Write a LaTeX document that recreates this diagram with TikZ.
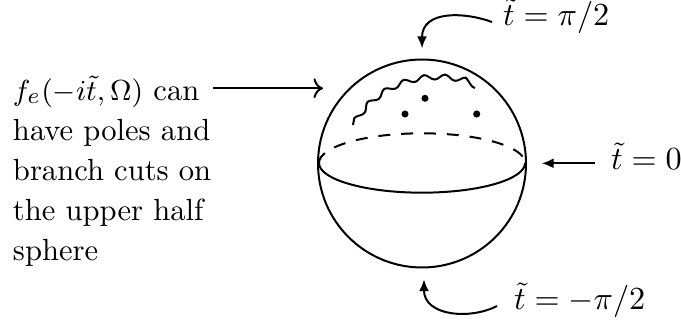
\documentclass[tikz,border=0pt]{standalone}
\usetikzlibrary{arrows.meta,decorations.pathmorphing}
\begin{document}
\begin{tikzpicture}[x=0.3106pt,y=-0.3106pt,line width=0.62pt,
  tipped/.style={-{Latex[length=3.7pt,width=3.1pt]}},
  lbl/.style={anchor=base west,inner sep=0pt},
  backline/.style={dash pattern=on 3.7pt off 3.4pt},
  wave/.style={decorate,decoration={snake,amplitude=0.8pt,segment length=6.4pt}}]
\useasboundingbox (0,0) rectangle (681,327);
% sphere
\coordinate (c) at (422,163.5);
\draw (c) circle[radius=32.3pt];
\draw (319,163) arc[start angle=180,end angle=360,x radius=32pt,y radius=9.22pt];
\draw[backline] (319,163) arc[start angle=180,end angle=0,x radius=32pt,y radius=9.22pt];
% branch cut and poles
\draw[wave] (353,125) .. controls (375,90) and (420,70) .. (475,88);
\fill (405,114) circle[radius=1.1pt];
\fill (425,98.3) circle[radius=1.1pt];
\fill (476.7,114) circle[radius=1.1pt];
% labels
\node[lbl] (top) at (502,26) {$\tilde t=\pi/2$};
\node[lbl] (mid) at (610,170) {$\tilde t=0$};
\node[lbl] (bot) at (513,310) {$\tilde t=-\pi/2$};
\node[anchor=north west,inner sep=0pt,align=left,font=\fontsize{9.5pt}{12.4pt}\selectfont] (txt) at (12,75)
  {$f_e(-i\tilde t,\Omega)$ can\\have poles and\\branch cuts on\\the upper half\\sphere};
% arrow ends
\coordinate (topT) at (492,22);
\coordinate (topH) at (422,48.3);
\coordinate (midT) at (595,163.3);
\coordinate (midH) at (541.7,163.3);
\coordinate (botT) at (497,306);
\coordinate (botH) at (424,279.3);
\coordinate (txtT) at (213,88.3);
\coordinate (txtH) at (323,88.3);
\draw[tipped] (topT) .. controls (465,12) and (422,10) .. (topH);
\draw[tipped] (midT) -- (midH);
\draw[tipped] (botT) .. controls (470,320) and (424,316) .. (botH);
\draw[->] (txtT) -- (txtH);
\end{tikzpicture}
\end{document}
